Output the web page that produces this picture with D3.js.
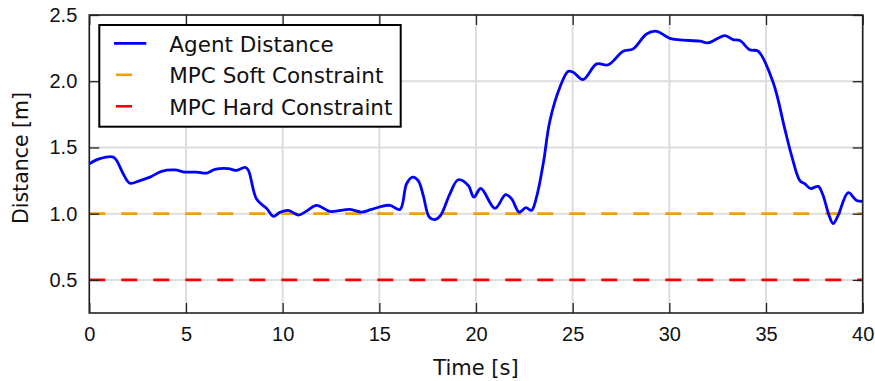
<!DOCTYPE html>
<html>
<head>
<meta charset="utf-8">
<script src="https://cdn.jsdelivr.net/npm/d3@7"></script>
<style>
  html, body { margin: 0; padding: 0; background: #fff; }
  svg { display: block; font-family: "DejaVu Sans", sans-serif; }
</style>
</head>
<body>
<div id="chart"></div>
<script>
// values
const time = [0, 0.55, 1.24, 1.42, 1.76, 2.1, 2.62, 3.14, 3.74, 4.43, 4.95, 5.55, 6.07, 6.5, 7.19, 7.62, 8.05, 8.22,
  8.65, 9.17, 9.52, 9.86, 10.29, 10.81, 11.24, 11.76, 12.45, 13.48, 14.08, 14.55, 15.03, 15.55, 16.07, 16.41, 16.72,
  17.01, 17.27, 17.58, 17.87, 18.17, 18.65, 19.08, 19.6, 19.89, 20.25, 20.98, 21.53, 21.84, 22.23, 22.58, 22.87,
  23.13, 23.48, 23.82, 24.34, 24.77, 25.03, 25.54, 26.24, 26.84, 27.61, 28.13, 28.82, 29.34, 30.03, 31.58, 32.01,
  32.87, 33.3, 33.65, 34.16, 34.59, 35.37, 35.97, 36.32, 36.75, 37.0, 37.3, 37.7, 37.92, 38.26, 38.47, 38.73, 39.25,
  39.68, 40];
const distance = [1.377, 1.415, 1.427, 1.40, 1.30, 1.23, 1.25, 1.276, 1.32, 1.33, 1.314, 1.314, 1.306, 1.334, 1.34,
  1.327, 1.35, 1.33, 1.11, 1.04, 0.98, 1.01, 1.025, 0.99, 1.02, 1.063, 1.017, 1.032, 1.012, 1.03, 1.052, 1.063, 1.032,
  1.226, 1.276, 1.25, 1.138, 0.975, 0.955, 0.987, 1.15, 1.256, 1.213, 1.125, 1.19, 1.04, 1.143, 1.113, 1.012, 1.045,
  1.025, 1.125, 1.38, 1.70, 1.955, 2.075, 2.068, 2.013, 2.131, 2.124, 2.226, 2.244, 2.357, 2.377, 2.324, 2.302, 2.29,
  2.345, 2.314, 2.307, 2.237, 2.227, 1.99, 1.64, 1.44, 1.25, 1.226, 1.19, 1.206, 1.15, 0.987, 0.925, 0.987, 1.158,
  1.10, 1.093];
const softConstraint = 1.0;
const hardConstraint = 0.5;
const xTicks = [0, 5, 10, 15, 20, 25, 30, 35, 40];
const yTicks = [0.5, 1.0, 1.5, 2.0, 2.5];
const legendLabels = ["Agent Distance", "MPC Soft Constraint", "MPC Hard Constraint"];

const width = 875, height = 381;
const margin = {top: 15, right: 12.3, bottom: 68, left: 89.3};
const w = width - margin.left - margin.right;
const h = height - margin.top - margin.bottom;

const colors = {agent: "#0000ff", soft: "#f0a000", hard: "#ff0000"};

const svg = d3.select("#chart").append("svg")
  .attr("width", width)
  .attr("height", height);

const g = svg.append("g")
  .attr("transform", `translate(${margin.left},${margin.top})`);

const x = d3.scaleLinear().domain([0, 40]).range([0, w]);
const y = d3.scaleLinear().domain([0.25, 2.5]).range([h, 0]);

// grid
g.append("g")
  .selectAll("line.vx")
  .data(xTicks)
  .join("line")
    .attr("x1", d => x(d)).attr("x2", d => x(d))
    .attr("y1", 0).attr("y2", h)
    .attr("stroke", "#dddddd").attr("stroke-width", 2);
g.append("g")
  .selectAll("line.hy")
  .data(yTicks)
  .join("line")
    .attr("x1", 0).attr("x2", w)
    .attr("y1", d => y(d)).attr("y2", d => y(d))
    .attr("stroke", "#dddddd").attr("stroke-width", 2);

// constraints
const constraints = [
  {value: hardConstraint, color: colors.hard},
  {value: softConstraint, color: colors.soft}
];
g.selectAll("line.constraint")
  .data(constraints)
  .join("line")
    .attr("x1", 0).attr("x2", w)
    .attr("y1", d => y(d.value)).attr("y2", d => y(d.value))
    .attr("stroke", d => d.color)
    .attr("stroke-width", 2.6)
    .attr("stroke-dasharray", "16,16");

// agent distance
const line = d3.line()
  .x(d => x(d[0]))
  .y(d => y(d[1]))
  .curve(d3.curveCatmullRom.alpha(0.5));

g.append("path")
  .datum(time.map((t, i) => [t, distance[i]]))
  .attr("d", line)
  .attr("fill", "none")
  .attr("stroke", colors.agent)
  .attr("stroke-width", 2.8)
  .attr("stroke-linejoin", "round");

// axes
const styleAxis = sel => {
  sel.select(".domain").remove();
  sel.selectAll("line").attr("stroke", "#222").attr("stroke-width", 1.3);
  sel.selectAll("text").attr("fill", "#111").style("font-size", "20px");
};

g.append("g")
  .attr("transform", `translate(0,${h})`)
  .call(d3.axisBottom(x).tickValues(xTicks).tickSizeInner(-10).tickSizeOuter(0).tickPadding(14).tickFormat(d3.format("d")))
  .call(styleAxis);

g.append("g")
  .call(d3.axisLeft(y).tickValues(yTicks).tickSizeInner(-10).tickSizeOuter(0).tickPadding(12).tickFormat(d3.format(".1f")))
  .call(styleAxis);

g.append("g")
  .call(d3.axisTop(x).tickValues(xTicks).tickSizeInner(-10).tickSizeOuter(0).tickFormat(""))
  .call(styleAxis);

g.append("g")
  .attr("transform", `translate(${w},0)`)
  .call(d3.axisRight(y).tickValues(yTicks).tickSizeInner(-10).tickSizeOuter(0).tickFormat(""))
  .call(styleAxis);

// frame
g.append("rect")
  .attr("width", w).attr("height", h)
  .attr("fill", "none")
  .attr("stroke", "#222")
  .attr("stroke-width", 1.6);

// axis labels
svg.append("text")
  .attr("x", margin.left + w / 2)
  .attr("y", 375)
  .attr("text-anchor", "middle")
  .style("font-size", "21px")
  .attr("fill", "#111")
  .text("Time [s]");

svg.append("text")
  .attr("transform", `translate(28,158) rotate(-90)`)
  .attr("text-anchor", "middle")
  .style("font-size", "20.5px")
  .attr("fill", "#111")
  .text("Distance [m]");

// legend
const legend = svg.append("g").attr("transform", "translate(99.3,25)");
legend.append("rect")
  .attr("width", 301.4).attr("height", 101.7)
  .attr("fill", "#fff")
  .attr("stroke", "#000")
  .attr("stroke-width", 2);

const legendItems = [
  {label: legendLabels[0], color: colors.agent, dash: null},
  {label: legendLabels[1], color: colors.soft, dash: "16,16"},
  {label: legendLabels[2], color: colors.hard, dash: "16,16"}
];

const item = legend.selectAll("g.item")
  .data(legendItems)
  .join("g")
    .attr("transform", (d, i) => `translate(0,${18.3 + i * 31.5})`);

item.append("line")
  .attr("x1", (d) => d.dash ? 16.7 : 14.7)
  .attr("x2", 47)
  .attr("stroke", d => d.color)
  .attr("stroke-width", d => d.dash ? 2.6 : 2.8)
  .attr("stroke-dasharray", d => d.dash);

item.append("text")
  .attr("x", 70)
  .attr("y", 8.5)
  .style("font-size", "21.5px")
  .attr("fill", "#111")
  .text(d => d.label);
</script>
</body>
</html>
